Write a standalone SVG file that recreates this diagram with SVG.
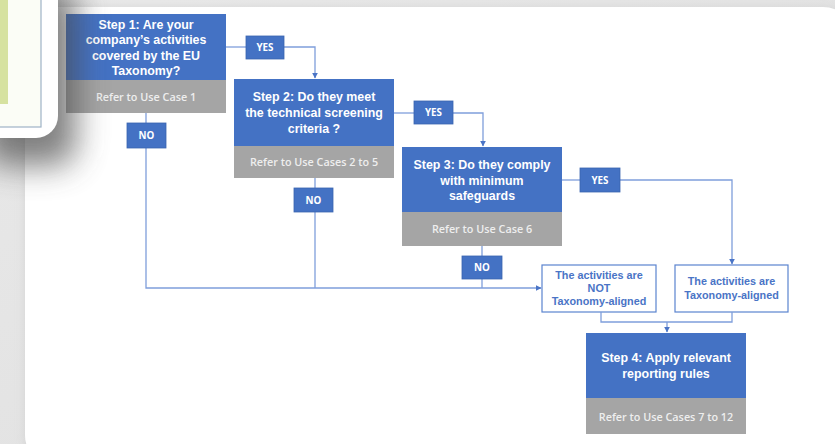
<svg xmlns="http://www.w3.org/2000/svg" width="835" height="444" viewBox="0 0 835 444">
<defs>
<style>
.blue{fill:#4472C4;}
.gray{fill:#A5A5A5;}
.st{font-family:"Liberation Sans",Arial,sans-serif;font-weight:700;font-size:12.4px;fill:#ffffff;text-anchor:middle;}
.ref{font-family:"Open Sans","Liberation Sans",sans-serif;font-weight:600;font-size:10.8px;fill:#eeeeee;text-anchor:middle;}
.lab{fill:#4472C4;stroke:#3a64b0;stroke-width:0.8;}
.lt{font-family:"Open Sans","Liberation Sans",sans-serif;font-weight:700;font-size:9.8px;fill:#ffffff;text-anchor:middle;}
.out{fill:#ffffff;stroke:#5b84cf;stroke-width:1.2;}
.ot{font-family:"Liberation Sans",Arial,sans-serif;font-weight:700;font-size:10.8px;fill:#4a74c6;text-anchor:middle;}
.ln{fill:none;stroke:#7f9edb;stroke-width:1.3;}
</style>
<marker id="ah" viewBox="0 0 10 10" refX="9" refY="5" markerWidth="6" markerHeight="6" orient="auto" markerUnits="userSpaceOnUse">
<path d="M0,0 L10,5 L0,10 z" fill="#4a74c6"/>
</marker>
<filter id="sh" x="-80%" y="-50%" width="260%" height="200%">
<feGaussianBlur stdDeviation="16"/>
</filter>
<filter id="psh" x="-10%" y="-10%" width="120%" height="120%">
<feGaussianBlur stdDeviation="6"/>
</filter>
<linearGradient id="bg" x1="0" y1="0" x2="1" y2="1">
<stop offset="0" stop-color="#e9e9e9"/>
<stop offset="1" stop-color="#dedede"/>
</linearGradient>
</defs>

<!-- background -->
<rect x="0" y="0" width="835" height="444" fill="url(#bg)"/>
<rect x="27" y="10" width="830" height="460" rx="32" fill="#bdbdbd" opacity="0.6" filter="url(#psh)"/>
<rect x="25" y="7" width="830" height="460" rx="32" fill="#ffffff"/>

<!-- nodes -->
<g id="step1">
<rect x="66" y="14" width="160" height="66" class="blue"/>
<rect x="66" y="80" width="160" height="33" class="gray"/>
<text class="st" x="146" y="29">Step 1: Are your</text>
<text class="st" x="146" y="44">company’s activities</text>
<text class="st" x="146" y="59.5">covered by the EU</text>
<text class="st" x="146" y="75">Taxonomy?</text>
<text class="ref" x="146" y="101">Refer to Use Case 1</text>
</g>
<g id="step2">
<rect x="234" y="79" width="160" height="67" class="blue"/>
<rect x="234" y="146" width="160" height="32" class="gray"/>
<text class="st" x="314" y="101">Step 2: Do they meet</text>
<text class="st" x="314" y="117">the technical screening</text>
<text class="st" x="314" y="133">criteria ?</text>
<text class="ref" x="314" y="166">Refer to Use Cases 2 to 5</text>
</g>
<g id="step3">
<rect x="402" y="147" width="160" height="65" class="blue"/>
<rect x="402" y="212" width="160" height="34" class="gray"/>
<text class="st" x="482" y="169">Step 3: Do they comply</text>
<text class="st" x="482" y="184.5">with minimum</text>
<text class="st" x="482" y="200">safeguards</text>
<text class="ref" x="482" y="233">Refer to Use Case 6</text>
</g>
<g id="step4">
<rect x="586" y="333" width="160" height="65" class="blue"/>
<rect x="586" y="398" width="160" height="36" class="gray"/>
<text class="st" x="666" y="362">Step 4: Apply relevant</text>
<text class="st" x="666" y="377.5">reporting rules</text>
<text class="ref" x="666" y="421">Refer to Use Cases 7 to 12</text>
</g>
<g id="not-aligned">
<rect x="542" y="265" width="114" height="47" class="out"/>
<text class="ot" x="599" y="279">The activities are</text>
<text class="ot" x="599" y="292">NOT</text>
<text class="ot" x="599" y="305">Taxonomy-aligned</text>
</g>
<g id="aligned">
<rect x="675" y="265" width="113" height="47" class="out"/>
<text class="ot" x="731.5" y="285">The activities are</text>
<text class="ot" x="731.5" y="299">Taxonomy-aligned</text>
</g>

<!-- connectors -->
<g id="connectors">
<path class="ln" d="M226,47 H246"/>
<path class="ln" d="M284,47 H315 V78" marker-end="url(#ah)"/>
<path class="ln" d="M146,113 V123"/>
<path class="ln" d="M146,148 V288 H541" marker-end="url(#ah)"/>
<path class="ln" d="M394,113 H414"/>
<path class="ln" d="M453,113 H483 V146" marker-end="url(#ah)"/>
<path class="ln" d="M315,178 V188"/>
<path class="ln" d="M315,212 V288"/>
<path class="ln" d="M562,180 H580"/>
<path class="ln" d="M620,180 H732 V264" marker-end="url(#ah)"/>
<path class="ln" d="M482,246 V256"/>
<path class="ln" d="M482,279 V288"/>
<path class="ln" d="M601,312 V322 H732 V312"/>
<path class="ln" d="M667,322 V332" marker-end="url(#ah)"/>
</g>

<!-- yes/no labels -->
<g id="yes1"><rect x="246" y="36" width="38" height="23" class="lab"/><text class="lt" x="265" y="51">YES</text></g>
<g id="yes2"><rect x="414" y="101" width="39" height="23" class="lab"/><text class="lt" x="433.5" y="116">YES</text></g>
<g id="yes3"><rect x="580" y="168" width="40" height="24" class="lab"/><text class="lt" x="600" y="183.5">YES</text></g>
<g id="no1"><rect x="127" y="123" width="39" height="25" class="lab"/><text class="lt" x="146.5" y="139">NO</text></g>
<g id="no2"><rect x="294" y="188" width="39" height="24" class="lab"/><text class="lt" x="313.5" y="203.5">NO</text></g>
<g id="no3"><rect x="462" y="256" width="40" height="23" class="lab"/><text class="lt" x="482" y="271">NO</text></g>

<!-- inset card at top-left -->
<g id="card">
<rect x="-16" y="-14" width="92" height="180" rx="22" fill="#4a4a4a" opacity="0.7" filter="url(#sh)"/>
<rect x="-30" y="-30" width="88" height="168" rx="22" fill="#ffffff"/>
<rect x="-10" y="-10" width="51" height="137" fill="#fbfdf6" stroke="#9fb3c6" stroke-width="1.2"/>
<rect x="0" y="0" width="8" height="104" fill="#d6e2a0"/>
</g>
</svg>
